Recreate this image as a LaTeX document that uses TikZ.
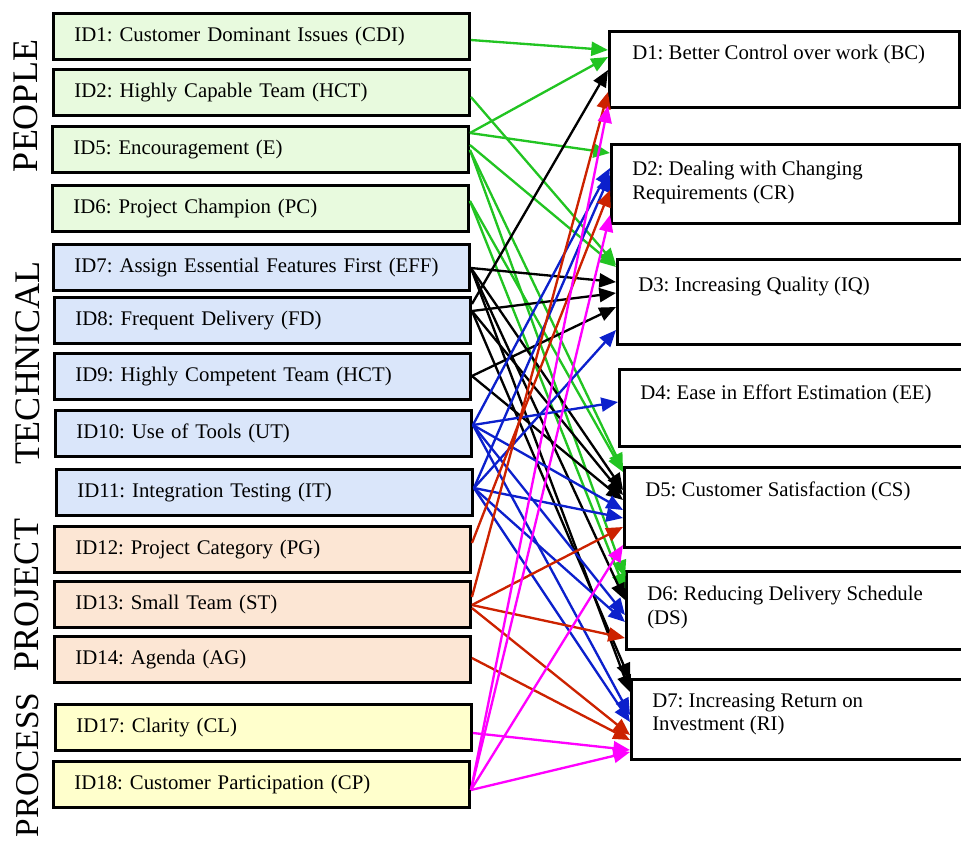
\documentclass[tikz,border=0pt]{standalone}
\usepackage{fontspec}
\setmainfont{Liberation Serif}
\usetikzlibrary{arrows.meta,calc}

\definecolor{lgreen}{RGB}{232,250,222}
\definecolor{lblue}{RGB}{218,230,250}
\definecolor{lpeach}{RGB}{252,230,212}
\definecolor{lyellow}{RGB}{255,255,204}
\definecolor{cgreen}{RGB}{34,196,34}
\definecolor{cblue}{RGB}{12,32,204}
\definecolor{cred}{RGB}{204,34,0}
\definecolor{cmag}{RGB}{255,0,255}

% connector from a factor box (offset below its top) to a benefit box (offset below its top)
\newcommand\linkit[5]{\draw[link,#1] ($(#2.north east)+(0,#3)$) -- ($(#4.north west)+(0,#5)$);}

\begin{document}
\frenchspacing
\begin{tikzpicture}[x=0.75pt,y=-0.75pt,
  lbox/.style={draw, line width=2.2pt, anchor=north west, minimum height=34.5pt,
    inner xsep=15.75pt, text width=280.5pt, align=left,
    font=\fontsize{15.6}{18}\selectfont\frenchspacing},
  rbox/.style={draw, line width=2.2pt, anchor=north west, fill=white, inner sep=0pt},
  rtext/.style={anchor=north west, inner sep=0pt, align=left,
    font=\fontsize{15.6}{17.8}\selectfont\frenchspacing},
  side/.style={rotate=90, inner sep=0pt, font=\fontsize{27}{27}\selectfont},
  link/.style={line width=1.75pt, -{Triangle[length=12.5pt,width=10.5pt]}},
]
\useasboundingbox (0,0) rectangle (961,840);

% category labels
\node[side] (people) at (26,106) {PEOPLE};
\node[side] (technical) at (28,363) {TECHNICAL};
\node[side] (project) at (27,595) {PROJECT};
\node[side, font=\fontsize{25}{25}\selectfont] (process) at (28,765) {PROCESS};

% factor boxes
\node[lbox, fill=lgreen] (ID1) at (52,12) {ID1: Customer Dominant Issues (CDI)};
\node[lbox, fill=lgreen] (ID2) at (52,68) {ID2: Highly Capable Team (HCT)};
\node[lbox, fill=lgreen] (ID5) at (51,125) {ID5: Encouragement (E)};
\node[lbox, fill=lgreen] (ID6) at (51,184) {ID6: Project Champion (PC)};
\node[lbox, fill=lblue] (ID7) at (52,243) {ID7: Assign Essential Features First (EFF)};
\node[lbox, fill=lblue] (ID8) at (53,296) {ID8: Frequent Delivery (FD)};
\node[lbox, fill=lblue] (ID9) at (53,352) {ID9: Highly Competent Team (HCT)};
\node[lbox, fill=lblue] (ID10) at (54,409) {ID10: Use of Tools (UT)};
\node[lbox, fill=lblue] (ID11) at (55,468) {ID11: Integration Testing (IT)};
\node[lbox, fill=lpeach] (ID12) at (53,525) {ID12: Project Category (PG)};
\node[lbox, fill=lpeach] (ID13) at (53,580) {ID13: Small Team (ST)};
\node[lbox, fill=lpeach] (ID14) at (53,635) {ID14: Agenda (AG)};
\node[lbox, fill=lyellow] (ID17) at (54,703) {ID17: Clarity (CL)};
\node[lbox, fill=lyellow] (ID18) at (52,760) {ID18: Customer Participation (CP)};

% benefit boxes
\node[rbox, minimum width=262.5pt, minimum height=57pt] (D1) at (608,30) {};
\node[rbox, minimum width=261pt, minimum height=59.25pt] (D2) at (610,143) {};
\node[rbox, minimum width=261pt, minimum height=63.75pt] (D3) at (616,258) {};
\node[rbox, minimum width=259.5pt, minimum height=57.75pt] (D4) at (618,368) {};
\node[rbox, minimum width=255.75pt, minimum height=60pt] (D5) at (623,466) {};
\node[rbox, minimum width=254.25pt, minimum height=58.5pt] (D6) at (625,570) {};
\node[rbox, minimum width=250.5pt, minimum height=60pt] (D7) at (630,678) {};

\node[rtext] (t1) at ($(D1.north west)+(24,15)$) {D1: Better Control over work (BC)};
\node[rtext] (t2) at ($(D2.north west)+(22,18)$) {D2: Dealing with Changing\\Requirements (CR)};
\node[rtext] (t3) at ($(D3.north west)+(22,19)$) {D3: Increasing Quality (IQ)};
\node[rtext] (t4) at ($(D4.north west)+(22,17)$) {D4: Ease in Effort Estimation (EE)};
\node[rtext] (t5) at ($(D5.north west)+(22,16)$) {D5: Customer Satisfaction (CS)};
\node[rtext] (t6) at ($(D6.north west)+(22,16)$) {D6: Reducing Delivery Schedule\\(DS)};
\node[rtext] (t7) at ($(D7.north west)+(22,15)$) {D7: Increasing Return on\\Investment (RI)};

% people links
\linkit{cgreen}{ID1}{28}{D1}{20}
\linkit{cgreen}{ID2}{29}{D3}{7}
\linkit{cgreen}{ID5}{8}{D1}{27}
\linkit{cgreen}{ID5}{8}{D2}{10}
\linkit{cgreen}{ID5}{20}{D3}{9}
\linkit{cgreen}{ID5}{25}{D5}{4}
\linkit{cgreen}{ID5}{25}{D6}{7}
\linkit{cgreen}{ID6}{17}{D5}{6}
\linkit{cgreen}{ID6}{17}{D6}{20}

% technical links
\linkit{black}{ID8}{8}{D1}{40}
\linkit{black}{ID7}{25}{D3}{24}
\linkit{black}{ID8}{15}{D3}{35}
\linkit{black}{ID9}{24}{D3}{49}
\linkit{black}{ID7}{25}{D5}{24}
\linkit{black}{ID7}{25}{D6}{30}
\linkit{black}{ID8}{15}{D5}{29}
\linkit{black}{ID8}{15}{D7}{2}
\linkit{black}{ID9}{24}{D5}{34}
\linkit{black}{ID7}{25}{D7}{14}

\linkit{cblue}{ID10}{16}{D2}{25}
\linkit{cblue}{ID11}{20}{D2}{32}
\linkit{cblue}{ID11}{20}{D3}{72}
\linkit{cblue}{ID10}{16}{D4}{34}
\linkit{cblue}{ID10}{16}{D5}{44}
\linkit{cblue}{ID11}{20}{D5}{52}
\linkit{cblue}{ID10}{16}{D6}{45}
\linkit{cblue}{ID11}{20}{D6}{52}
\linkit{cblue}{ID10}{16}{D7}{37}
\linkit{cblue}{ID11}{20}{D7}{44}

% project links
\linkit{cred}{ID13}{17}{D1}{62}
\linkit{cred}{ID12}{18}{D2}{47}
\linkit{cred}{ID13}{25}{D5}{61}
\linkit{cred}{ID13}{25}{D6}{68}
\linkit{cred}{ID13}{28}{D7}{57}
\linkit{cred}{ID14}{23}{D7}{62}

% process links
\linkit{cmag}{ID18}{30}{D1}{76}
\linkit{cmag}{ID18}{30}{D2}{72}
\linkit{cmag}{ID18}{30}{D5}{79}
\linkit{cmag}{ID17}{30}{D7}{72}
\linkit{cmag}{ID18}{30}{D7}{74}
\end{tikzpicture}
\end{document}
